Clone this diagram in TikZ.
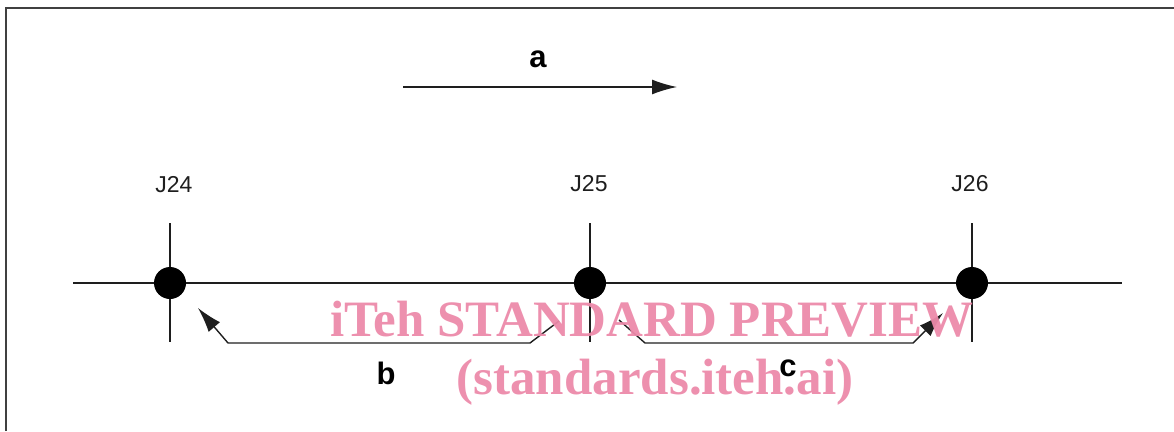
\documentclass[tikz,border=0pt]{standalone}
\usepackage{fontspec}
\setmainfont{Liberation Sans}
\newfontfamily\wmfont{Liberation Serif}
\usetikzlibrary{arrows.meta}
\definecolor{wmpink}{RGB}{236,138,170}
\definecolor{linegray}{RGB}{30,30,30}
\tikzset{
  junction/.style={circle,fill=black,inner sep=0pt,minimum size=32pt},
  jlabel/.style={font=\fontsize{23}{23}\selectfont,text=linegray,inner sep=0pt},
  letter/.style={font=\fontsize{31}{31}\selectfont\bfseries,inner sep=0pt},
  mainline/.style={line width=1.8pt,draw=linegray},
  flow/.style={line width=1.4pt,draw=linegray,-{Latex[length=25pt,width=15pt]}},
  wm/.style={font=\wmfont\bfseries\fontsize{51}{51}\selectfont,text=wmpink,inner sep=0pt,anchor=base,opacity=0.95},
  frame/.style={line width=2.2pt,draw=black!75}
}
\begin{document}
\begin{tikzpicture}[x=1pt,y=-1pt]
\useasboundingbox (0,0) rectangle (1174,431);
% frame
\draw[frame] (6,431) -- (6,8) -- (1174,8);
% main line ends
\coordinate (L) at (73,283);
\coordinate (R) at (1122,283);
\draw[mainline] (L) -- (R);
% ticks
\foreach \x/\n in {170/24,590/25,972/26}{
  \coordinate (t\n) at (\x,223);
  \coordinate (u\n) at (\x,342);
  \draw[mainline] (t\n) -- (u\n);
}
\node[junction] (J24) at (170,283) {};
\node[junction] (J25) at (590,283) {};
\node[junction] (J26) at (972,283) {};
\node[jlabel] (lJ24) at (174,185) {J24};
\node[jlabel] (lJ25) at (589,184) {J25};
\node[jlabel] (lJ26) at (970,184) {J26};
% arrow a
\coordinate (a1) at (403,87);
\coordinate (a2) at (677,87);
\draw[flow] (a1) -- (a2);
\node[letter] (la) at (538,59) {a};
% arrow b
\coordinate (b1) at (559,321);
\coordinate (b2) at (530,343);
\coordinate (b3) at (228,343);
\coordinate (b4) at (198,308);
\draw[flow] (b1) -- (b2) -- (b3) -- (b4);
\node[letter] (lb) at (386,373) {b};
% arrow c
\coordinate (c1) at (619,320);
\coordinate (c2) at (645,343);
\coordinate (c3) at (913,343);
\coordinate (c4) at (943,313);
\draw[flow] (c1) -- (c2) -- (c3) -- (c4);
\node[letter] (lc) at (788,368) {c};
% watermark
\node[wm] (w1) at (652,336) {iTeh STANDARD PREVIEW};
\node[wm] (w2) at (655,394) {(standards.iteh.ai)};
\end{tikzpicture}
\end{document}
